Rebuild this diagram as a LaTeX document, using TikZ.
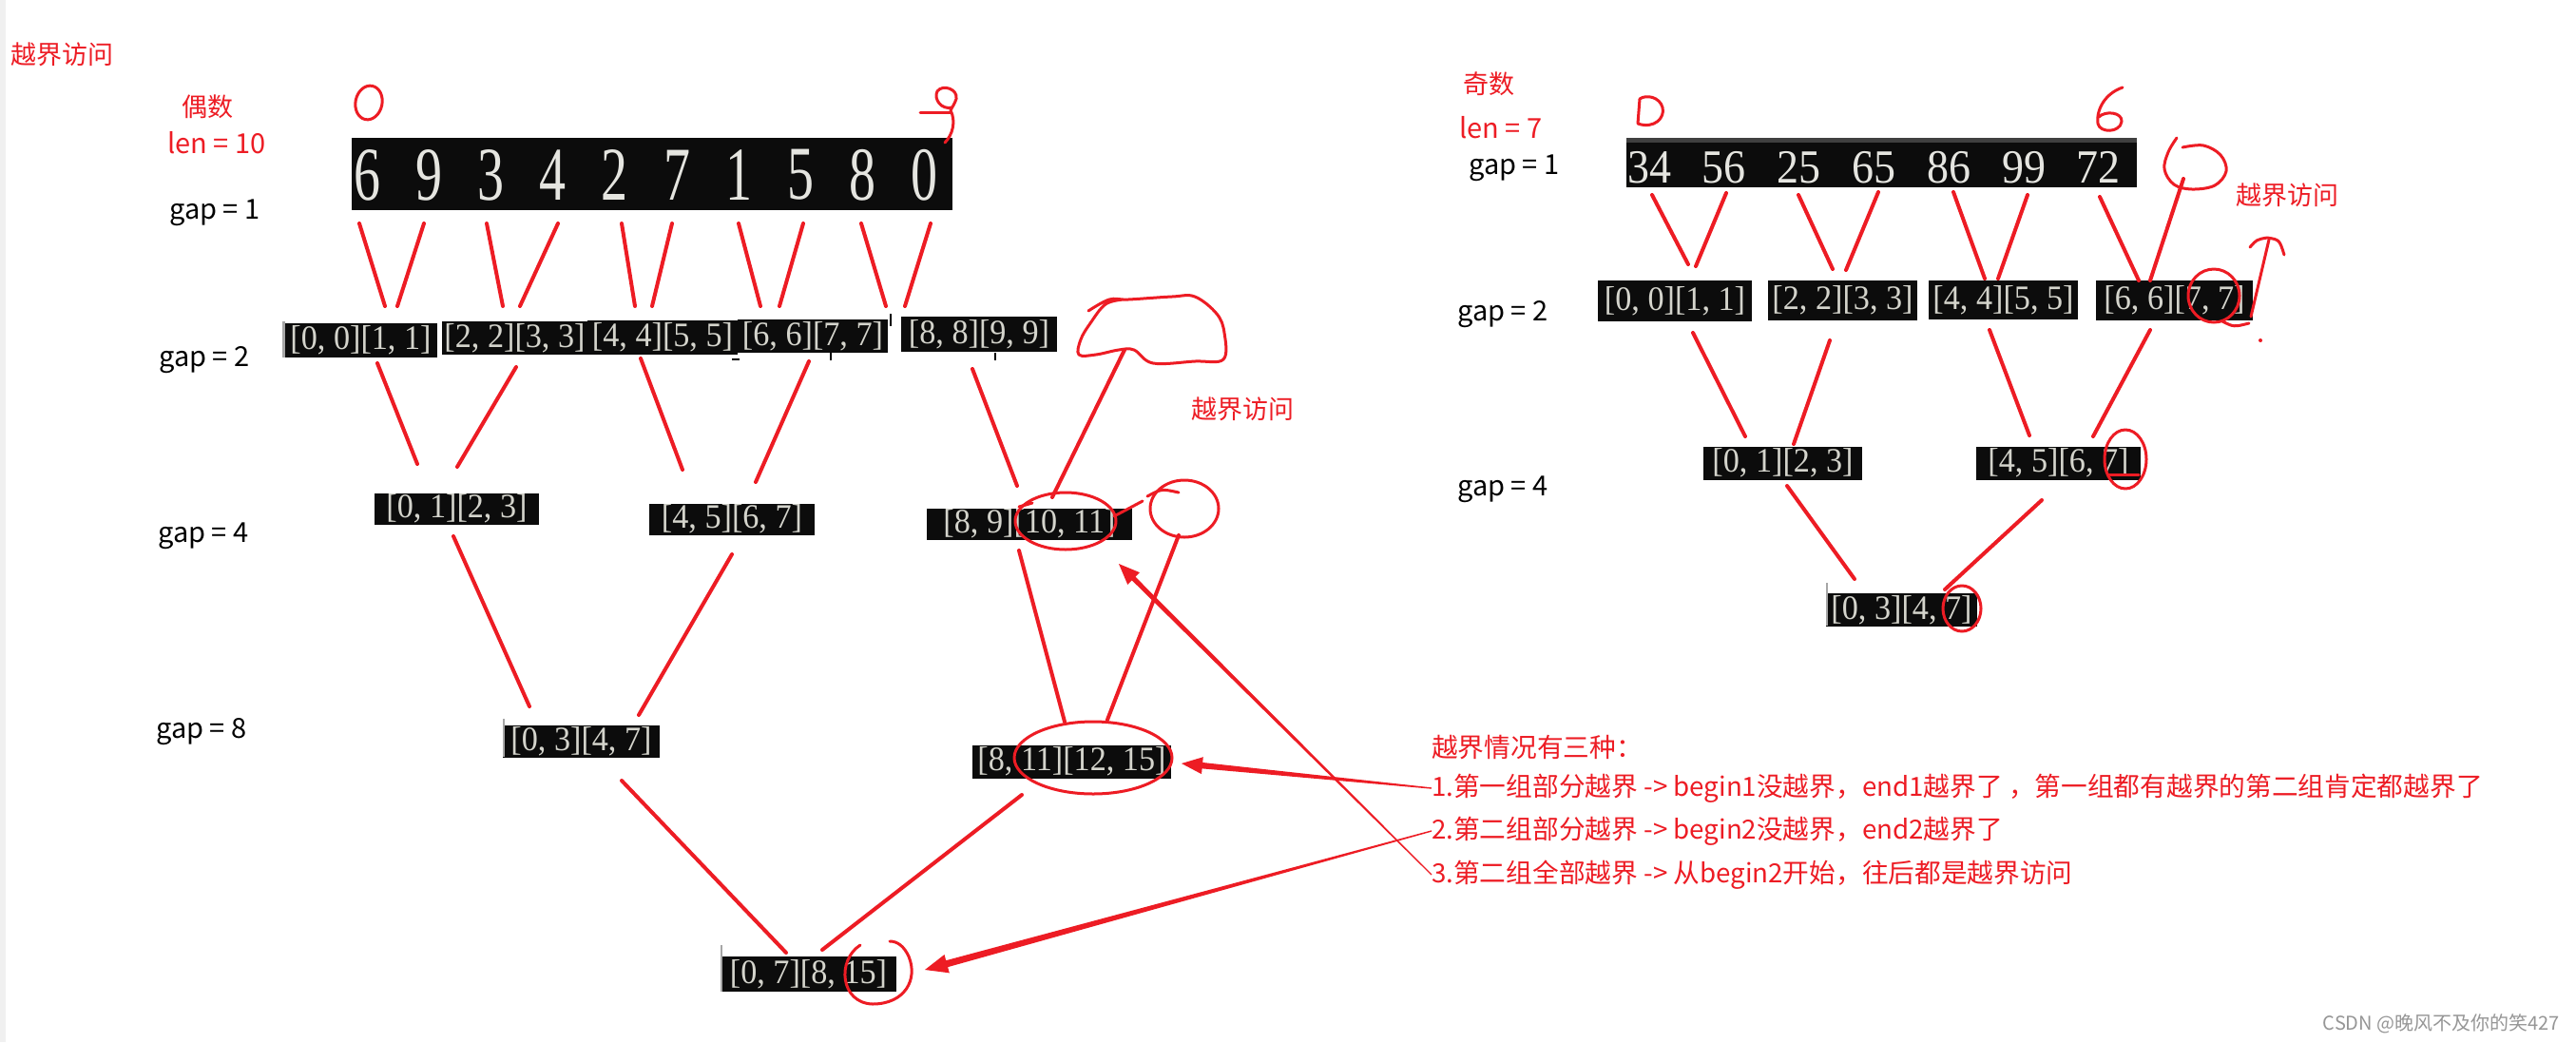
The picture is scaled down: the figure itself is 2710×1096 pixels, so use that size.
\documentclass[tikz,border=0pt]{standalone}
\usepackage{fontspec}
\setmainfont{Liberation Serif}
\newfontfamily\cjk{Noto Sans CJK SC}
\usetikzlibrary{calc}
\definecolor{pr}{RGB}{237,28,36}
\definecolor{boxbg}{RGB}{12,12,12}
\definecolor{boxtx}{RGB}{212,212,204}
\definecolor{wmc}{RGB}{150,150,150}
\tikzset{
 lbl/.style={font=\cjk\fontsize{29}{32}\selectfont, inner sep=0pt, text=black},
 rlbl/.style={font=\cjk\fontsize{27}{30}\selectfont, inner sep=0pt, text=pr},
 note/.style={font=\cjk\fontsize{27.7}{30}\selectfont, inner sep=0pt, text=pr, anchor=west},
 ibox/.style={fill=boxbg, text=boxtx, inner sep=0pt, font=\fontsize{36}{38}\selectfont},
 redstroke/.style={draw=pr, line width=4pt, line cap=round, line join=round},
 redloop/.style={draw=pr, line width=3pt, line cap=round, line join=round},
 artefact/.style={draw=black, line width=1.5pt},
}
\newcommand\iv[1]{\scalebox{0.95}[1]{#1}}
\newcommand\taperarrow[6]{%
 \coordinate (tpB) at ($(#2)!#5!(#1)$);
 \fill[pr] ($(#1)!#3!90:(#2)$) -- ($(tpB)!#4!90:(#2)$) -- ($(tpB)!#6!90:(#2)$) -- (#2)
   -- ($(tpB)!#6!-90:(#2)$) -- ($(tpB)!#4!-90:(#2)$) -- ($(#1)!#3!-90:(#2)$) -- cycle;}
\begin{document}
\begin{tikzpicture}[x=1pt,y=-1pt]
\useasboundingbox (0,0) rectangle (2710,1096);
\fill[white] (0,0) rectangle (2710,1096);
\fill[gray!12] (0,0) rectangle (6,1096);

% ---------- labels ----------
\node[rlbl] (tl) at (66,57) {越界访问};
\node[rlbl] (even) at (218,112) {偶数};
\node[rlbl, font=\cjk\fontsize{29}{32}\selectfont] (lenL) at (228,150) {len = 10};
\node[lbl] (gapL1) at (226,224) {gap = 1};
\node[lbl] (gapL2) at (215,379) {gap = 2};
\node[lbl] (gapL4) at (214,564) {gap = 4};
\node[lbl] (gapL8) at (212,770) {gap = 8};
\node[rlbl] (odd) at (1566,88) {奇数};
\node[rlbl, font=\cjk\fontsize{29}{32}\selectfont] (lenR) at (1579,134) {len = 7};
\node[lbl] (gapR1) at (1593,177) {gap = 1};
\node[lbl] (gapR2) at (1581,331) {gap = 2};
\node[lbl] (gapR4) at (1581,515) {gap = 4};
\node[rlbl] (midoob) at (1307,430) {越界访问};
\node[rlbl] (rightoob) at (2406,205) {越界访问};

% ---------- left arrays ----------
\node[fill=boxbg, minimum width=632pt, minimum height=76pt, inner sep=0pt] (arrL) at (686,183) {};
\foreach \d [count=\i from 0] in {6,9,3,4,2,7,1,5,8,0}
  \node[text=boxtx!60!white, font=\fontsize{80}{80}\selectfont, inner sep=0pt] (dL\i) at ({386+65.2*\i},184) {\scalebox{0.7}[1]{\d}};

\node[ibox, minimum width=161pt, minimum height=36pt] (g2a) at (379.5,358) {\iv{[0, 0][1, 1]}};
\node[ibox, minimum width=153pt, minimum height=35pt] (g2b) at (541.5,355.5) {\iv{[2, 2][3, 3]}};
\node[ibox, minimum width=158pt, minimum height=36pt] (g2c) at (697,355) {\iv{[4, 4][5, 5]}};
\node[ibox, minimum width=158pt, minimum height=35pt] (g2d) at (855,353.5) {\iv{[6, 6][7, 7]}};
\node[ibox, minimum width=164pt, minimum height=37pt] (g2e) at (1030,351.5) {\iv{[8, 8][9, 9]}};
\node[ibox, minimum width=173pt, minimum height=33pt] (g4a) at (480.5,535) {\iv{[0, 1][2, 3]}};
\node[ibox, minimum width=174pt, minimum height=33pt] (g4b) at (770,546) {\iv{[4, 5][6, 7]}};
\node[ibox, minimum width=216pt, minimum height=33pt] (g4c) at (1083,551) {\iv{[8, 9][10, 11]}};
\node[ibox, minimum width=165pt, minimum height=34pt] (g8a) at (611.5,779.5) {\iv{[0, 3][4, 7]}};
\node[ibox, minimum width=209pt, minimum height=35pt] (g8b) at (1127.5,801) {\iv{[8, 11][12, 15]}};
\node[ibox, minimum width=185pt, minimum height=37pt] (g16) at (850.5,1024.5) {\iv{[0, 7][8, 15]}};

% small artefacts of the screenshots
\draw[gray!70, line width=3pt] (298,338) -- (298,376);
\draw[artefact] (937,330) -- (937,343);
\draw[artefact] (874,371) -- (874,379);
\draw[artefact] (770,378) -- (778,378);
\draw[artefact] (1047,371) -- (1047,379);
\draw[gray!70, line width=2pt] (530,756) -- (530,796);
\draw[gray!70, line width=2pt] (759,994) -- (759,1043);

% ---------- right arrays ----------
\node[fill=boxbg, minimum width=537pt, minimum height=52pt, inner sep=0pt] (arrR) at (1979.5,171) {};
\fill[black!75] (arrR.north west) rectangle ($(arrR.north east)+(0,5)$);
\foreach \d [count=\i from 0] in {34,56,25,65,86,99,72}
  \node[text=boxtx!60!white, font=\fontsize{50}{50}\selectfont, inner sep=0pt] (dR\i) at ({1735+78.8*\i},176) {\scalebox{0.92}[1]{\d}};

\node[ibox, minimum width=162pt, minimum height=43pt] (r2a) at (1762,316.5) {\iv{[0, 0][1, 1]}};
\node[ibox, minimum width=157pt, minimum height=42pt] (r2b) at (1938.5,316) {\iv{[2, 2][3, 3]}};
\node[ibox, minimum width=157pt, minimum height=41pt] (r2c) at (2107.5,315.5) {\iv{[4, 4][5, 5]}};
\node[ibox, minimum width=165pt, minimum height=42pt] (r2d) at (2287.5,316) {\iv{[6, 6][7, 7]}};
\node[ibox, minimum width=167pt, minimum height=35pt] (r4a) at (1875.5,487) {\iv{[0, 1][2, 3]}};
\node[ibox, minimum width=173pt, minimum height=35pt] (r4b) at (2165.5,487) {\iv{[4, 5][6, 7]}};
\node[ibox, minimum width=159pt, minimum height=35pt] (r8) at (2000.5,641.5) {\iv{[0, 3][4, 7]}};
\draw[gray!70, line width=2pt] (1922,613) -- (1922,658);

% ---------- red strokes: left tree ----------
\foreach \a/\b in {378/405,446/418,512/529,587/547,654/668,707/686,777/800,845/820,906/932,979/952}
  \draw[redstroke] (\a,235) -- (\b,322);
\draw[redstroke] (397,382) -- (439,488);
\draw[redstroke] (543,386) -- (481,491);
\draw[redstroke] (674,377) -- (718,494);
\draw[redstroke] (851,380) -- (795,507);
\draw[redstroke] (1023,388) -- (1070,511);
\draw[redstroke] (1183,368) -- (1107,523);
\draw[redstroke] (477,564) -- (557,743);
\draw[redstroke] (770,583) -- (672,752);
\draw[redstroke] (1072,579) -- (1120,759);
\draw[redstroke] (1240,563) -- (1165,757);
\draw[redstroke] (654,821) -- (827,1002);
\draw[redstroke] (1075,836) -- (865,999);

% hand written 0 and 9
\draw[redloop, rotate around={-12:(388,108)}] (388,108) ellipse [x radius=14, y radius=18];
\draw[redloop] (1002,113) .. controls (990,116) and (982,104) .. (986,96)
  .. controls (992,88) and (1008,94) .. (1006,104) .. controls (1004,110) and (1002,112) .. (1000,116)
  .. controls (1006,128) and (1002,142) .. (994,150);
\draw[redloop] (968,118) -- (1000,118);

% blobs and circles (left)
\draw[redloop] plot[smooth, tension=0.6] coordinates {(1145,327) (1167,315) (1187,315) (1233,312) (1257,312) (1280,330) (1288,350) (1287,378) (1257,380) (1213,382) (1193,368) (1177,368) (1153,373) (1135,373) (1137,357) (1147,340) (1163,320) (1182,315)};
\draw[redloop] (1121,548) ellipse [x radius=53, y radius=30];
\draw[redloop] (1072,533) -- (1086,529);
\draw[redloop] (1172,543) -- (1202,527);
\draw[redloop] (1246,535) ellipse [x radius=36, y radius=30];
\draw[redloop] (1207,522) .. controls (1222,514) .. (1240,518);
\draw[redloop] (1150,797) ellipse [x radius=83, y radius=38];
\draw[redloop] (905,994) .. controls (880,1010) and (884,1055) .. (918,1056)
  .. controls (952,1056) and (966,1030) .. (956,1006) .. controls (951,995) and (944,990) .. (936,990);

% ---------- red strokes: right tree ----------
\draw[redstroke] (1738,205) -- (1776,278);
\draw[redstroke] (1816,203) -- (1784,280);
\draw[redstroke] (1892,205) -- (1928,283);
\draw[redstroke] (1976,202) -- (1942,284);
\draw[redstroke] (2055,202) -- (2088,293);
\draw[redstroke] (2133,205) -- (2102,293);
\draw[redstroke] (2209,207) -- (2250,295);
\draw[redstroke] (2297,188) -- (2262,295);
\draw[redstroke] (1781,350) -- (1836,459);
\draw[redstroke] (1925,358) -- (1887,467);
\draw[redstroke] (2093,347) -- (2135,458);
\draw[redstroke] (2262,347) -- (2202,459);
\draw[redstroke] (1880,511) -- (1951,609);
\draw[redstroke] (2148,526) -- (2046,620);

% hand written 0 and 6 (right)
\draw[redloop] (1725,104) -- (1723,130) .. controls (1740,136) and (1752,124) .. (1749,113)
  .. controls (1746,102) and (1732,99) .. (1725,104);
\draw[redloop] (2233,92) .. controls (2215,98) and (2205,115) .. (2207,130)
  .. controls (2209,140) and (2230,140) .. (2232,128) .. controls (2233,118) and (2215,116) .. (2208,123);

% circles (right)
\draw[redloop] plot[smooth, tension=0.6] coordinates {(2290,145) (2281,160) (2277,178) (2287,194) (2306,199) (2330,195) (2342,180) (2336,163) (2318,153) (2296,155)};
\draw[redloop] (2329,311) ellipse [x radius=27, y radius=28];
\draw[redloop] (2338,338) .. controls (2350,344) .. (2366,340);
\draw[redloop] (2368,333) -- (2387,252);
\draw[redloop] (2367,260) .. controls (2374,252) .. (2385,250) .. controls (2398,252) .. (2403,268);
\fill[pr] (2378,358) circle (2);
\draw[redloop] (2236,483) ellipse [x radius=22, y radius=31];
\draw[redloop] (2218,499) -- (2250,499);
\draw[redloop] (2064,640) ellipse [x radius=20, y radius=24];

% ---------- explanation text ----------
\node[note] (c0) at (1506,786) {越界情况有三种：};
\node[note] (c1) at (1506,829) {1.第一组部分越界 -> begin1没越界，end1越界了 ，第一组都有越界的第二组肯定都越界了};
\node[note] (c2) at (1506,874) {2.第二组部分越界 -> begin2没越界，end2越界了};
\node[note] (c3) at (1506,920) {3.第二组全部越界 -> 从begin2开始，往后都是越界访问};

% ---------- arrows ----------
\coordinate (tip1) at (1243,803);
\coordinate (tip2) at (1177,593);
\coordinate (tip3) at (973,1020);
\taperarrow{c1.west}{tip1}{0.7pt}{3.2pt}{22pt}{9pt}
\taperarrow{c3.west}{tip2}{0.6pt}{2.6pt}{22pt}{9pt}
\taperarrow{c2.west}{tip3}{0.7pt}{3.6pt}{24pt}{10pt}

% watermark
\node[font=\cjk\fontsize{20}{22}\selectfont, text=wmc, anchor=east, inner sep=0pt] (wm) at (2693,1077) {CSDN @晚风不及你的笑427};
\end{tikzpicture}
\end{document}
